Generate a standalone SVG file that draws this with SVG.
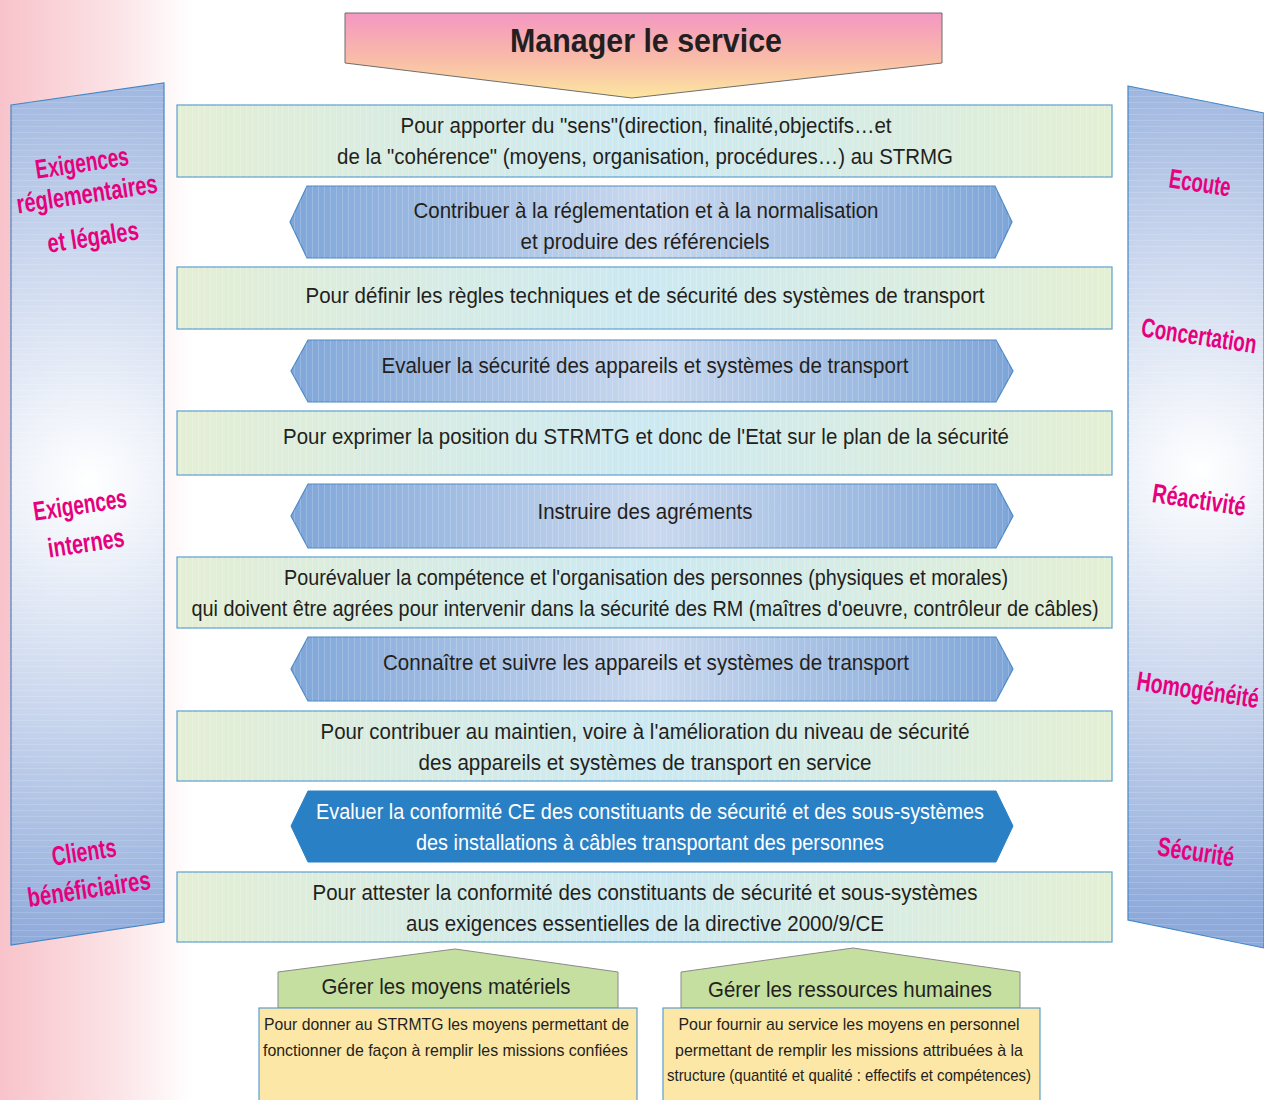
<svg xmlns="http://www.w3.org/2000/svg" width="1264" height="1100" viewBox="0 0 1264 1100">
<defs>
  <linearGradient id="bgPink" x1="0" y1="0" x2="1" y2="0">
    <stop offset="0" stop-color="#f8c3ca"/>
    <stop offset="0.6" stop-color="#fbe3e6"/>
    <stop offset="1" stop-color="#ffffff"/>
  </linearGradient>
  <linearGradient id="titleGrad" x1="0" y1="0" x2="0" y2="1">
    <stop offset="0" stop-color="#f497c2"/>
    <stop offset="0.55" stop-color="#f9bca8"/>
    <stop offset="1" stop-color="#fde6a0"/>
  </linearGradient>
  <linearGradient id="boxGrad" x1="0" y1="0" x2="1" y2="0">
    <stop offset="0" stop-color="#e4efd4"/>
    <stop offset="0.5" stop-color="#cce9f2"/>
    <stop offset="1" stop-color="#e4f0d3"/>
  </linearGradient>
  <linearGradient id="hexGrad" x1="0" y1="0" x2="1" y2="0">
    <stop offset="0" stop-color="#7fa6d9"/>
    <stop offset="0.5" stop-color="#cad9ef"/>
    <stop offset="1" stop-color="#7ea5d8"/>
  </linearGradient>
  <radialGradient id="leftPanel" gradientUnits="userSpaceOnUse" cx="88" cy="480" r="470">
    <stop offset="0" stop-color="#ffffff"/>
    <stop offset="0.5" stop-color="#c9d6ee"/>
    <stop offset="1" stop-color="#8eaadb"/>
  </radialGradient>
  <radialGradient id="rightPanel" gradientUnits="userSpaceOnUse" cx="1200" cy="470" r="450">
    <stop offset="0" stop-color="#ffffff"/>
    <stop offset="0.5" stop-color="#c9d6ee"/>
    <stop offset="1" stop-color="#8eaadb"/>
  </radialGradient>
  <pattern id="vstripes" width="6" height="10" patternUnits="userSpaceOnUse">
    <rect x="0" y="0" width="1" height="10" fill="#ffffff" opacity="0.18"/>
  </pattern>
  <pattern id="hstripes" width="10" height="6" patternUnits="userSpaceOnUse">
    <rect x="0" y="0" width="10" height="1" fill="#ffffff" opacity="0.14"/>
  </pattern>
</defs>
<style>
  .t { font-family: "Liberation Sans Narrow", "Liberation Sans", Arial, sans-serif; font-size: 22.5px; fill: #231f20; text-anchor: middle; }
  .tw { fill: #ffffff; }
  .pk { font-family: "Liberation Sans Narrow", "Liberation Sans", Arial, sans-serif; font-size: 27px; font-weight: bold; fill: #e6007e; text-anchor: middle; }
  .box { fill: url(#boxGrad); stroke: #5b9fcf; stroke-width: 1.2; }
  .hex { fill: url(#hexGrad); stroke: #4a8ac8; stroke-width: 1.2; }
  .hexd { fill: #2a80c5; stroke: #2a80c5; stroke-width: 1; }
  .stripe { fill: url(#vstripes); stroke: none; }
  .panel { stroke: #3f86c6; stroke-width: 1.2; }
  .pent { fill: #c5dfa0; stroke: #8a8a8a; stroke-width: 1; }
  .yel { fill: #fde7a7; stroke: #5b9fcf; stroke-width: 1.2; }
  .sm { font-family: "Liberation Sans Narrow", "Liberation Sans", Arial, sans-serif; font-size: 17px; fill: #231f20; }
</style>

<rect x="0" y="0" width="1264" height="1100" fill="#ffffff"/>
<rect x="0" y="0" width="192" height="1100" fill="url(#bgPink)"/>

<g id="panel-left">
  <polygon class="panel" points="11,105 164,83 164,922 11,945" fill="url(#leftPanel)"/>
  <polygon points="11,105 164,83 164,922 11,945" fill="url(#hstripes)"/>
  <text class="pk" transform="translate(82,163) rotate(-8.5)" y="9" textLength="94" lengthAdjust="spacingAndGlyphs">Exigences</text>
  <text class="pk" transform="translate(87,194) rotate(-8.5)" y="9" textLength="142" lengthAdjust="spacingAndGlyphs">réglementaires</text>
  <text class="pk" transform="translate(93,237) rotate(-8.5)" y="9" textLength="92" lengthAdjust="spacingAndGlyphs">et légales</text>
  <text class="pk" transform="translate(80,505) rotate(-8.5)" y="9" textLength="94" lengthAdjust="spacingAndGlyphs">Exigences</text>
  <text class="pk" transform="translate(86,543) rotate(-8.5)" y="9" textLength="77" lengthAdjust="spacingAndGlyphs">internes</text>
  <text class="pk" transform="translate(84,852) rotate(-8.5)" y="9" textLength="65" lengthAdjust="spacingAndGlyphs">Clients</text>
  <text class="pk" transform="translate(89,889) rotate(-8.5)" y="9" textLength="124" lengthAdjust="spacingAndGlyphs">bénéficiaires</text>
</g>

<g id="panel-right">
  <polygon class="panel" points="1128,86 1264,113 1264,948 1128,920" fill="url(#rightPanel)"/>
  <polygon points="1128,86 1264,113 1264,948 1128,920" fill="url(#hstripes)"/>
  <text class="pk" transform="translate(1200,183) rotate(8.5)" y="9" textLength="62" lengthAdjust="spacingAndGlyphs">Ecoute</text>
  <text class="pk" transform="translate(1199,336) rotate(8.5)" y="9" textLength="116" lengthAdjust="spacingAndGlyphs">Concertation</text>
  <text class="pk" transform="translate(1199,500) rotate(8.5)" y="9" textLength="94" lengthAdjust="spacingAndGlyphs">Réactivité</text>
  <text class="pk" transform="translate(1198,690) rotate(8.5)" y="9" textLength="123" lengthAdjust="spacingAndGlyphs">Homogénéité</text>
  <text class="pk" transform="translate(1196,852) rotate(8.5)" y="9" textLength="77" lengthAdjust="spacingAndGlyphs">Sécurité</text>
</g>

<g id="title">
  <polygon points="345,13 942,13 942,63 632,98 345,63" fill="url(#titleGrad)" stroke="#6d6d6d" stroke-width="1"/>
  <text x="646" y="52" style="font-family:'Liberation Sans Narrow','Liberation Sans',Arial,sans-serif;font-size:33px;font-weight:bold;fill:#231f20;text-anchor:middle" textLength="272" lengthAdjust="spacingAndGlyphs">Manager le service</text>
</g>

<g id="box1">
  <rect class="box" x="177" y="105" width="935" height="72"/>
  <rect class="stripe" x="177" y="105" width="935" height="72"/>
  <text class="t" x="646" y="133" textLength="491" lengthAdjust="spacingAndGlyphs">Pour apporter du "sens"(direction, finalité,objectifs…et</text>
  <text class="t" x="645" y="164" textLength="616" lengthAdjust="spacingAndGlyphs">de la "cohérence" (moyens, organisation, procédures…) au STRMG</text>
</g>

<g id="hex1">
  <polygon class="hex" points="307,186 995,186 1012,222 995,258 307,258 290,222"/>
  <polygon class="stripe" points="307,186 995,186 1012,222 995,258 307,258 290,222"/>
  <text class="t" x="646" y="218" textLength="465" lengthAdjust="spacingAndGlyphs">Contribuer à la réglementation et à la normalisation</text>
  <text class="t" x="645" y="249" textLength="249" lengthAdjust="spacingAndGlyphs">et produire des référenciels</text>
</g>

<g id="box2">
  <rect class="box" x="177" y="267" width="935" height="62"/>
  <rect class="stripe" x="177" y="267" width="935" height="62"/>
  <text class="t" x="645" y="303" textLength="679" lengthAdjust="spacingAndGlyphs">Pour définir les règles techniques et de sécurité des systèmes de transport</text>
</g>

<g id="hex2">
  <polygon class="hex" points="308,340 996,340 1013,371 996,402 308,402 291,371"/>
  <polygon class="stripe" points="308,340 996,340 1013,371 996,402 308,402 291,371"/>
  <text class="t" x="645" y="373" textLength="527" lengthAdjust="spacingAndGlyphs">Evaluer la sécurité des appareils et systèmes de transport</text>
</g>

<g id="box3">
  <rect class="box" x="177" y="411" width="935" height="64"/>
  <rect class="stripe" x="177" y="411" width="935" height="64"/>
  <text class="t" x="646" y="444" textLength="726" lengthAdjust="spacingAndGlyphs">Pour exprimer la position du STRMTG et donc de l'Etat sur le plan de la sécurité</text>
</g>

<g id="hex3">
  <polygon class="hex" points="308,484 996,484 1013,516 996,548 308,548 291,516"/>
  <polygon class="stripe" points="308,484 996,484 1013,516 996,548 308,548 291,516"/>
  <text class="t" x="645" y="519" textLength="215" lengthAdjust="spacingAndGlyphs">Instruire des agréments</text>
</g>

<g id="box4">
  <rect class="box" x="177" y="557" width="935" height="71"/>
  <rect class="stripe" x="177" y="557" width="935" height="71"/>
  <text class="t" x="646" y="585" textLength="724" lengthAdjust="spacingAndGlyphs">Pourévaluer la compétence et l'organisation des personnes (physiques et morales)</text>
  <text class="t" x="645" y="616" textLength="907" lengthAdjust="spacingAndGlyphs">qui doivent être agrées pour intervenir dans la sécurité des RM (maîtres d'oeuvre, contrôleur de câbles)</text>
</g>

<g id="hex4">
  <polygon class="hex" points="308,637 996,637 1013,669 996,701 308,701 291,669"/>
  <polygon class="stripe" points="308,637 996,637 1013,669 996,701 308,701 291,669"/>
  <text class="t" x="646" y="670" textLength="526" lengthAdjust="spacingAndGlyphs">Connaître et suivre les appareils et systèmes de transport</text>
</g>

<g id="box5">
  <rect class="box" x="177" y="711" width="935" height="70"/>
  <rect class="stripe" x="177" y="711" width="935" height="70"/>
  <text class="t" x="645" y="739" textLength="649" lengthAdjust="spacingAndGlyphs">Pour contribuer au maintien, voire à l'amélioration du niveau de sécurité</text>
  <text class="t" x="645" y="770" textLength="453" lengthAdjust="spacingAndGlyphs">des appareils et systèmes de transport en service</text>
</g>

<g id="hex5">
  <polygon class="hexd" points="308,791 996,791 1013,826 996,862 308,862 291,826"/>
  <text class="t tw" x="650" y="819" textLength="668" lengthAdjust="spacingAndGlyphs">Evaluer la conformité CE des constituants de sécurité et des sous-systèmes</text>
  <text class="t tw" x="650" y="850" textLength="468" lengthAdjust="spacingAndGlyphs">des installations à câbles transportant des personnes</text>
</g>

<g id="box6">
  <rect class="box" x="177" y="872" width="935" height="70"/>
  <rect class="stripe" x="177" y="872" width="935" height="70"/>
  <text class="t" x="645" y="900" textLength="665" lengthAdjust="spacingAndGlyphs">Pour attester la conformité des constituants de sécurité et sous-systèmes</text>
  <text class="t" x="645" y="931" textLength="478" lengthAdjust="spacingAndGlyphs">aus exigences essentielles de la directive 2000/9/CE</text>
</g>

<g id="materiels">
  <polygon class="pent" points="278,972 455,949 618,972 618,1008 278,1008"/>
  <text class="t" x="446" y="994" textLength="249" lengthAdjust="spacingAndGlyphs">Gérer les moyens matériels</text>
  <rect class="yel" x="259" y="1008" width="378" height="100"/>
  <text class="sm" x="264" y="1030" textLength="365" lengthAdjust="spacingAndGlyphs">Pour donner au STRMTG les moyens permettant de</text>
  <text class="sm" x="263" y="1056" textLength="365" lengthAdjust="spacingAndGlyphs">fonctionner de façon à remplir les missions confiées</text>
</g>

<g id="humaines">
  <polygon class="pent" points="681,972 853,948 1020,972 1020,1008 681,1008"/>
  <text class="t" x="850" y="997" textLength="284" lengthAdjust="spacingAndGlyphs">Gérer les ressources humaines</text>
  <rect class="yel" x="663" y="1008" width="377" height="100"/>
  <text class="sm" x="849" y="1030" text-anchor="middle" textLength="341" lengthAdjust="spacingAndGlyphs">Pour fournir au service les moyens en personnel</text>
  <text class="sm" x="849" y="1056" text-anchor="middle" textLength="348" lengthAdjust="spacingAndGlyphs">permettant de remplir les missions attribuées à la</text>
  <text class="sm" x="849" y="1081" text-anchor="middle" textLength="364" lengthAdjust="spacingAndGlyphs">structure (quantité et qualité : effectifs et compétences)</text>
</g>

<g id="connectors"></g>
</svg>
